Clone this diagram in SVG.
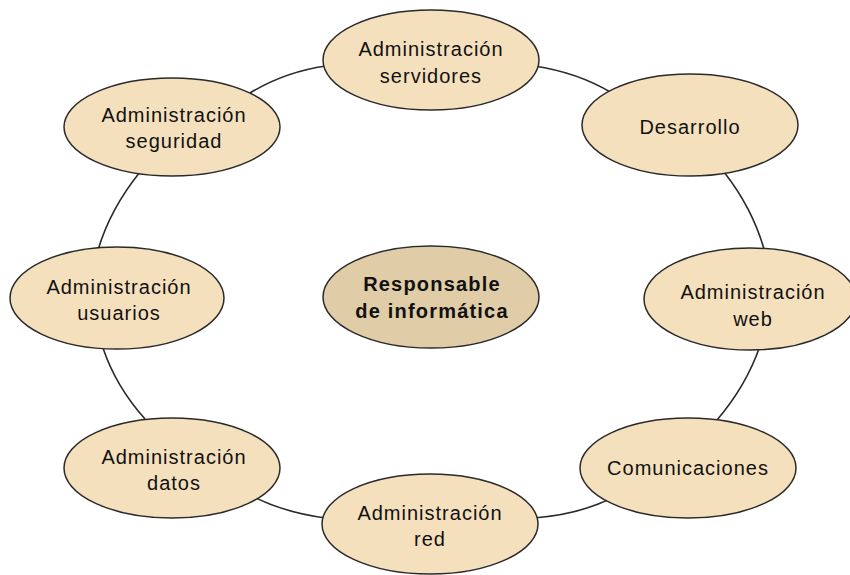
<svg xmlns="http://www.w3.org/2000/svg" width="850" height="575" viewBox="0 0 850 575">
<style>
.node ellipse{fill:#F5E0BD;stroke:#2a2a2a;stroke-width:1.5}
#center ellipse{fill:#E0CCA6}
text{font-family:"Liberation Sans",Arial,sans-serif;font-size:20px;fill:#111;text-anchor:middle;letter-spacing:1px}
#center text{font-weight:bold;font-size:20px;letter-spacing:1.2px}
.conn path{fill:none;stroke:#2a2a2a;stroke-width:1.6}
</style>
<rect width="850" height="575" fill="#fff"/>
<g class="conn">
<path d="M250,93 Q284.6,71.9 326,66"/>
<path d="M534,66 Q577.4,72.3 612,93"/>
<path d="M724,172 Q752.2,208 764,249"/>
<path d="M760,346 Q746.2,385.8 717,420"/>
<path d="M612,498 Q577.9,514.7 534,518"/>
<path d="M326,518 Q283,512.6 248,494"/>
<path d="M145,419 Q115.8,386.3 103,348"/>
<path d="M98,250 Q110.2,209 140,172"/>
</g>
<g id="servidores" class="node"><ellipse cx="431" cy="60" rx="108" ry="50"/><text x="431" y="56">Administración</text><text x="431" y="83">servidores</text></g>
<g id="desarrollo" class="node"><ellipse cx="690" cy="125" rx="108" ry="51"/><text x="690" y="134">Desarrollo</text></g>
<g id="web" class="node"><ellipse cx="750" cy="299" rx="106" ry="51"/><text x="753" y="299">Administración</text><text x="753" y="326">web</text></g>
<g id="comunicaciones" class="node"><ellipse cx="688" cy="468" rx="108" ry="50"/><text x="688" y="475">Comunicaciones</text></g>
<g id="red" class="node"><ellipse cx="430" cy="524" rx="108" ry="50"/><text x="430" y="520">Administración</text><text x="430" y="546">red</text></g>
<g id="datos" class="node"><ellipse cx="172" cy="468" rx="108" ry="50"/><text x="174" y="464">Administración</text><text x="174" y="490">datos</text></g>
<g id="usuarios" class="node"><ellipse cx="117" cy="298" rx="107" ry="51"/><text x="119" y="294">Administración</text><text x="119" y="320">usuarios</text></g>
<g id="seguridad" class="node"><ellipse cx="172" cy="127" rx="108" ry="49"/><text x="174" y="122">Administración</text><text x="174" y="148">seguridad</text></g>
<g id="center" class="node"><ellipse cx="431" cy="297" rx="108" ry="51"/><text x="432" y="291">Responsable</text><text x="432" y="318">de informática</text></g>
</svg>
